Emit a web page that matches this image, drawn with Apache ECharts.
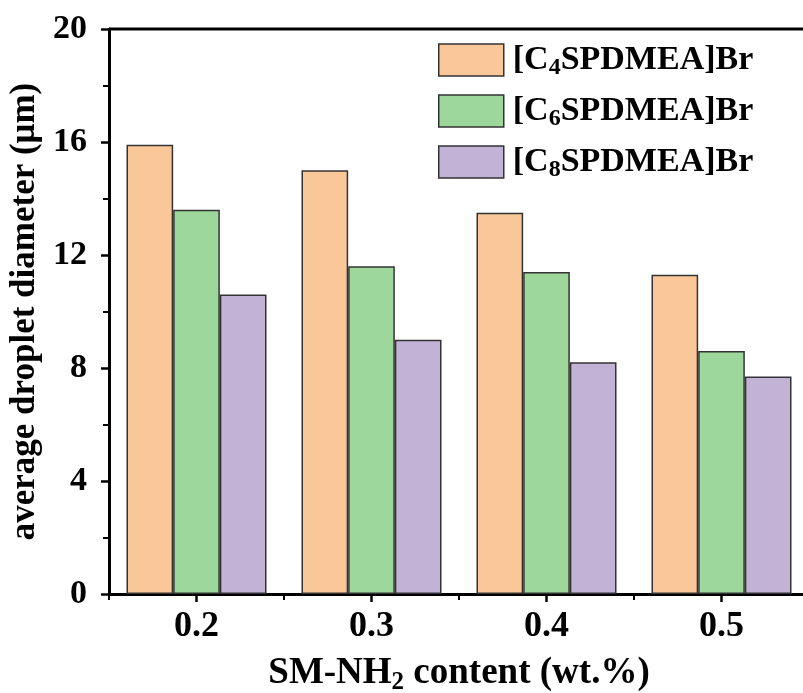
<!DOCTYPE html>
<html>
<head>
<meta charset="utf-8">
<script src="https://cdn.jsdelivr.net/npm/echarts@6/dist/echarts.min.js"></script>
<style>
  html, body { margin: 0; padding: 0; background: #fff; }
  #chart { width: 803px; height: 693px; }
</style>
</head>
<body>
<div id="chart"></div>
<script>
// SM-NH2 content (wt.%)
const categories = ['0.2', '0.3', '0.4', '0.5'];
// average droplet diameter (μm)
const c4Values = [15.9, 15.0, 13.5, 11.3];
const c6Values = [13.6, 11.6, 11.4, 8.6];
const c8Values = [10.6, 9.0, 8.2, 7.7];
const legendSubs = { c4: '4', c6: '6', c8: '8' };

const font = '"Liberation Serif", "Times New Roman", serif';
const chart = echarts.init(document.getElementById('chart'));

function barSeries(name, data, color) {
  return {
    name: name,
    type: 'bar',
    data: data,
    barGap: '0%',
    barCategoryGap: '20%',
    itemStyle: { color: color, borderColor: '#333', borderWidth: 1.5 }
  };
}

const richText = {
  a: { fontFamily: font, fontWeight: 'bold', fontSize: 34, color: '#000' },
  s: { fontFamily: font, fontWeight: 'bold', fontSize: 24, color: '#000', padding: [16, 0, 0, 0] }
};

const option = {
  animation: false,
  backgroundColor: '#fff',
  // plot runs past the right edge of the picture, as in the original
  grid: { left: 109, top: 29, width: 700, height: 565, outerBoundsMode: 'none', containLabel: false },
  legend: {
    orient: 'vertical',
    left: 433,
    top: 38,
    icon: 'rect',
    itemWidth: 65,
    itemHeight: 32,
    itemGap: 14,
    data: ['c4', 'c6', 'c8'],
    itemStyle: { borderColor: '#333', borderWidth: 1.5 },
    formatter: function (n) {
      return '{a|[C}{s|' + legendSubs[n] + '}{a|SPDMEA]Br}';
    },
    textStyle: { padding: [0, 0, 0, 4], rich: richText }
  },
  xAxis: {
    type: 'category',
    data: categories,
    name: '{a|SM-NH}{s|2}{a| content (wt.%)}',
    nameLocation: 'middle',
    nameGap: 58,
    nameTextStyle: {
      rich: {
        a: { fontFamily: font, fontWeight: 'bold', fontSize: 37, color: '#000' },
        s: { fontFamily: font, fontWeight: 'bold', fontSize: 25, color: '#000', padding: [18, 0, 0, 0] }
      }
    },
    axisLine: { lineStyle: { color: '#000', width: 3 } },
    axisTick: { show: false },
    axisLabel: { fontFamily: font, fontWeight: 'bold', fontSize: 36, color: '#000', margin: 15 },
    splitLine: { show: false }
  },
  yAxis: {
    type: 'value',
    min: 0,
    max: 20,
    interval: 4,
    name: 'average droplet diameter (μm)',
    nameLocation: 'middle',
    nameGap: 62,
    nameTextStyle: { fontFamily: font, fontWeight: 'bold', fontSize: 35, color: '#000' },
    axisLine: { show: true, lineStyle: { color: '#000', width: 3 } },
    axisTick: { show: true, length: 8, lineStyle: { color: '#000', width: 2.5 } },
    minorTick: { show: true, splitNumber: 2, length: 6, lineStyle: { color: '#000', width: 2 } },
    axisLabel: { fontFamily: font, fontWeight: 'bold', fontSize: 34, color: '#000', margin: 22 },
    splitLine: { show: false }
  },
  series: [
    barSeries('c4', c4Values, '#FAC898'),
    barSeries('c6', c6Values, '#9ED79C'),
    barSeries('c8', c8Values, '#C2B2D6')
  ]
};

chart.setOption(option);

// top frame line and x ticks (centre + band edge), placed through the chart's own scales
const yMax = chart.convertToPixel({ yAxisIndex: 0 }, 20);
const yZero = chart.convertToPixel({ yAxisIndex: 0 }, 0);
const graphics = [{
  type: 'line',
  shape: { x1: 109, y1: yMax, x2: 803, y2: yMax },
  style: { stroke: '#000', lineWidth: 3 }
}];
const bandW = chart.convertToPixel({ xAxisIndex: 0 }, 1) - chart.convertToPixel({ xAxisIndex: 0 }, 0);
categories.forEach(function (c, i) {
  const cx = chart.convertToPixel({ xAxisIndex: 0 }, i);
  graphics.push({ type: 'line', shape: { x1: cx, y1: yZero, x2: cx, y2: yZero + 8 }, style: { stroke: '#000', lineWidth: 2.5 } });
  const bx = cx - bandW / 2;
  graphics.push({ type: 'line', shape: { x1: bx, y1: yZero, x2: bx, y2: yZero + 6 }, style: { stroke: '#000', lineWidth: 2 } });
});
chart.setOption({ graphic: graphics });
</script>
</body>
</html>
